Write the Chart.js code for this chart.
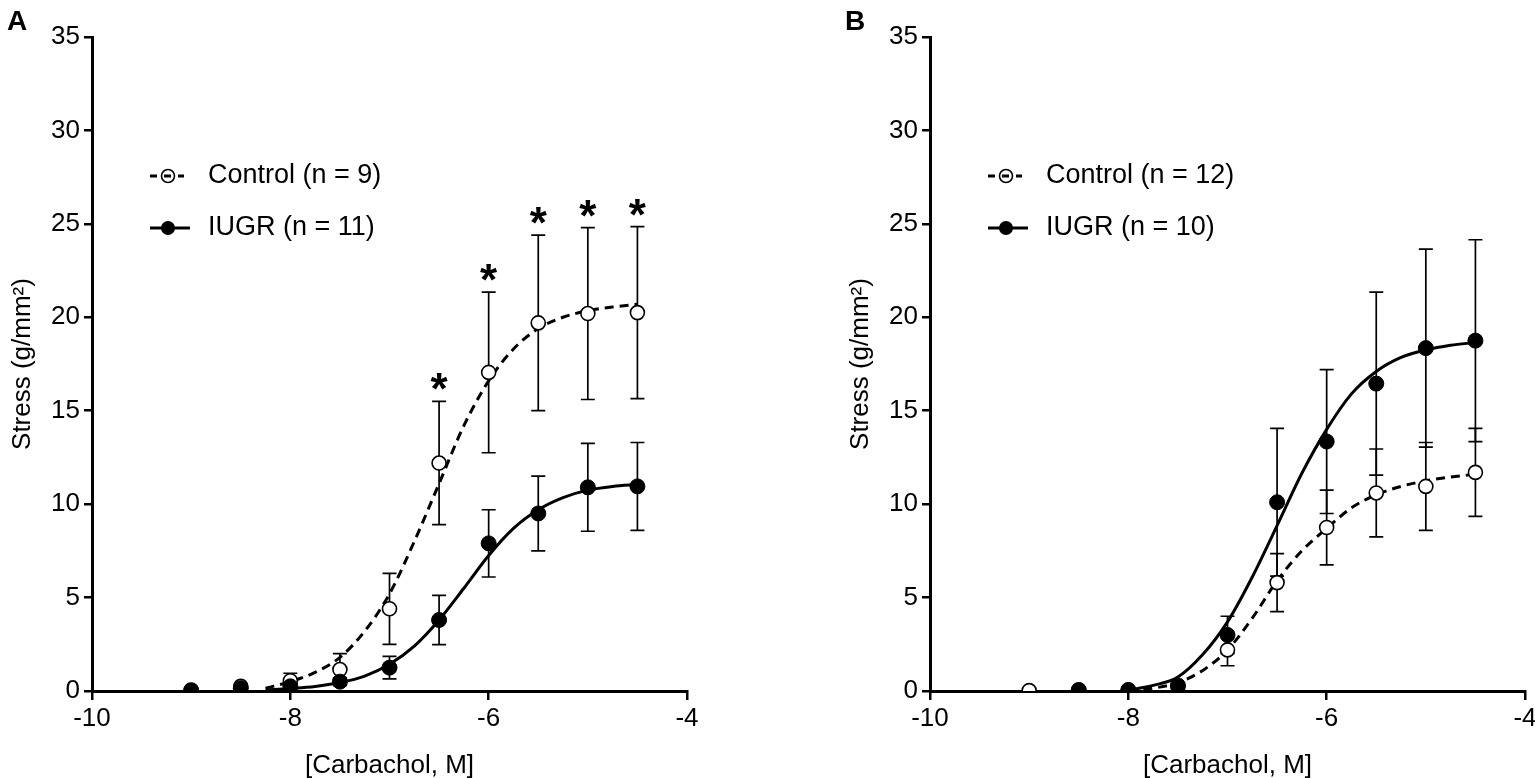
<!DOCTYPE html>
<html><head><meta charset="utf-8">
<script src="https://cdn.jsdelivr.net/npm/chart.js@4.4.0/dist/chart.umd.min.js"></script>
<style>
html,body{margin:0;padding:0;background:#fff;width:1535px;height:778px;overflow:hidden;position:relative;}
canvas{position:absolute;top:0;}
#cA{left:0;}
#cB{left:838px;}
</style></head><body>
<canvas id="cA" width="730" height="778"></canvas>
<canvas id="cB" width="730" height="778"></canvas>
<script>
// ---- data ----
const xVals = [-9, -8.5, -8, -7.5, -7, -6.5, -6, -5.5, -5, -4.5];
const xTicks = [-10, -8, -6, -4];
const yTicks = [0, 5, 10, 15, 20, 25, 30, 35];

// Panel A
const ctrlA    = [0.05, 0.25, 0.55, 1.15, 4.4, 12.2, 17.05, 19.7, 20.2, 20.25];
const ctrlAErr = [0, 0.1, 0.4, 0.85, 1.9, 3.3, 4.3, 4.7, 4.6, 4.6];
const ctrlASig = [false, false, false, false, false, true, true, true, true, true];
const iugrA    = [0.02, 0.15, 0.25, 0.5, 1.25, 3.8, 7.9, 9.5, 10.9, 10.95];
const iugrAErr = [0, 0, 0.1, 0.2, 0.6, 1.32, 1.8, 2.0, 2.35, 2.35];
const curveXA     = [-8.25, -8, -7.75, -7.5, -7.25, -7, -6.75, -6.5, -6.25, -6, -5.75, -5.5, -5.25, -5, -4.75, -4.5];
const ctrlCurveA  = [0.15, 0.5, 1.0, 1.8, 3.2, 5.2, 8.0, 11.1, 14.2, 16.6, 18.3, 19.4, 20.0, 20.35, 20.55, 20.7];
const iugrCurveA  = [0.05, 0.13, 0.24, 0.45, 0.8, 1.43, 2.4, 3.8, 5.5, 7.25, 8.7, 9.7, 10.35, 10.75, 10.95, 11.05];

// Panel B
const ctrlB    = [0.02, 0.05, 0.05, 0.25, 2.2, 5.8, 8.75, 10.6, 10.95, 11.7];
const ctrlBErr = [0, 0, 0, 0.1, 0.85, 1.55, 2.0, 2.35, 2.35, 2.35];
const iugrB    = [null, 0.05, 0.05, 0.3, 3.0, 10.1, 13.35, 16.45, 18.35, 18.75];
const iugrBErr = [0, 0, 0, 0, 1.0, 3.95, 3.85, 4.9, 5.3, 5.4];
const curveXB     = [-8, -7.75, -7.5, -7.25, -7, -6.75, -6.5, -6.25, -6, -5.75, -5.5, -5.25, -5, -4.75, -4.5];
const ctrlCurveB  = [0.02, 0.15, 0.45, 1.1, 2.2, 3.9, 5.9, 7.5, 8.7, 9.8, 10.5, 10.95, 11.25, 11.45, 11.6];
const iugrCurveB  = [0.05, 0.3, 0.75, 1.95, 3.7, 6.1, 8.85, 11.65, 14.0, 15.9, 17.1, 17.85, 18.25, 18.5, 18.65];

const legendA = ['Control (n = 9)', 'IUGR (n = 11)'];
const legendB = ['Control (n = 12)', 'IUGR (n = 10)'];

const FONT = "'Liberation Sans', Arial, sans-serif";

function pts(xs, ys) { return xs.map((x, i) => ({x: x, y: ys[i]})).filter(p => p.y !== null); }
function errs(ys, es) { return es.filter((e, i) => ys[i] !== null); }

const decor = {
  id: 'decor',
  beforeDatasetsDraw(chart) {
    const ctx = chart.ctx, ys = chart.scales.y;
    chart.data.datasets.forEach((ds, di) => {
      if (!ds.errors) return;
      const meta = chart.getDatasetMeta(di);
      ctx.save();
      ctx.strokeStyle = '#000'; ctx.lineWidth = 1.7;
      meta.data.forEach((pt, i) => {
        const e = ds.errors[i], v = ds.data[i].y;
        if (!e) return;
        const yt = ys.getPixelForValue(v + e), yb = ys.getPixelForValue(v - e);
        ctx.beginPath();
        ctx.moveTo(pt.x, yt); ctx.lineTo(pt.x, yb);
        ctx.moveTo(pt.x - 7, yt); ctx.lineTo(pt.x + 7, yt);
        ctx.moveTo(pt.x - 7, yb); ctx.lineTo(pt.x + 7, yb);
        ctx.stroke();
      });
      ctx.restore();
    });
  },
  afterDatasetsDraw(chart) {
    const ctx = chart.ctx, ys = chart.scales.y;
    chart.data.datasets.forEach((ds, di) => {
      if (!ds.sig) return;
      const meta = chart.getDatasetMeta(di);
      ctx.save();
      ctx.fillStyle = '#000'; ctx.font = 'bold 44px ' + FONT;
      ctx.textAlign = 'center'; ctx.textBaseline = 'alphabetic';
      meta.data.forEach((pt, i) => {
        if (!ds.sig[i]) return;
        const yt = ys.getPixelForValue(ds.data[i].y + ds.errors[i]);
        ctx.fillText('*', pt.x, yt + 3);
      });
      ctx.restore();
    });
  },
  afterDraw(chart, args, opts) {
    const ctx = chart.ctx, L = chart.chartArea.left;
    ctx.save();
    ctx.fillStyle = '#000';
    ctx.font = 'bold 28px ' + FONT;
    ctx.textBaseline = 'top'; ctx.textAlign = 'left';
    ctx.fillText(opts.letter, 7, 8);
    // legend
    const rows = [176, 228];
    const x0 = L + 58, x1 = L + 98, cx = L + 76;
    ctx.font = '27px ' + FONT; ctx.textBaseline = 'middle';
    opts.labels.forEach((lab, i) => {
      const y = rows[i];
      ctx.strokeStyle = '#000'; ctx.lineWidth = 3;
      if (i === 0) {
        ctx.beginPath(); ctx.arc(cx, y, 6.5, 0, Math.PI * 2);
        ctx.fillStyle = '#fff'; ctx.fill(); ctx.lineWidth = 1.6; ctx.stroke();
        ctx.lineWidth = 3; ctx.setLineDash([7, 7]);
        ctx.beginPath(); ctx.moveTo(x0, y); ctx.lineTo(x1 - 6, y); ctx.stroke();
        ctx.setLineDash([]);
      } else {
        ctx.beginPath(); ctx.moveTo(x0, y); ctx.lineTo(x1, y); ctx.stroke();
        ctx.beginPath(); ctx.arc(cx, y, 7, 0, Math.PI * 2);
        ctx.fillStyle = '#000'; ctx.fill();
      }
      ctx.fillStyle = '#000';
      ctx.fillText(lab, L + 116, y);
    });
    ctx.restore();
  }
};

function makeChart(id, letter, labels, ctrl, ctrlErr, ctrlSig, iugr, iugrErr, cx, cc, ic) {
  return new Chart(document.getElementById(id), {
    data: {
      datasets: [
        { type: 'scatter', data: pts(xVals, iugr), errors: errs(iugr, iugrErr),
          pointRadius: 7.5, pointBackgroundColor: '#000', pointBorderColor: '#000', pointBorderWidth: 1,
          showLine: false, order: 1 },
        { type: 'scatter', data: pts(xVals, ctrl), errors: errs(ctrl, ctrlErr), sig: ctrlSig,
          pointRadius: 7, pointBackgroundColor: '#fff', pointBorderColor: '#000', pointBorderWidth: 1.6,
          showLine: false, order: 2 },
        { type: 'line', data: pts(cx, cc), borderColor: '#000', borderWidth: 3, borderDash: [9, 6],
          pointRadius: 0, cubicInterpolationMode: 'monotone', fill: false, order: 3 },
        { type: 'line', data: pts(cx, ic), borderColor: '#000', borderWidth: 3,
          pointRadius: 0, cubicInterpolationMode: 'monotone', fill: false, order: 4 }
      ]
    },
    options: {
      responsive: false, animation: false, devicePixelRatio: 1,
      layout: { padding: { left: 0, right: 43, top: 37, bottom: 0 } },
      plugins: { legend: { display: false }, tooltip: { enabled: false },
                 decor: { letter: letter, labels: labels } },
      scales: {
        x: {
          type: 'linear', min: -10, max: -4,
          afterBuildTicks: s => { s.ticks = xTicks.map(v => ({value: v})); },
          afterFit: s => { s.height = 87; },
          border: { color: '#000', width: 3 },
          grid: { drawOnChartArea: false, drawTicks: true, tickLength: 9, color: '#000', lineWidth: 2.5 },
          ticks: { color: '#000', font: { family: FONT, size: 26 }, padding: 3, maxRotation: 0 },
          title: { display: true, text: '[Carbachol, M]', color: '#000', font: { family: FONT, size: 26 }, padding: { top: 0, bottom: -3 } }
        },
        y: {
          type: 'linear', min: 0, max: 35,
          afterBuildTicks: s => { s.ticks = yTicks.map(v => ({value: v})); },
          afterFit: s => { s.width = 92; },
          border: { color: '#000', width: 3 },
          grid: { drawOnChartArea: false, drawTicks: true, tickLength: 8, color: '#000', lineWidth: 2.5 },
          ticks: { color: '#000', font: { family: FONT, size: 26 }, padding: 4 },
          title: { display: true, text: 'Stress (g/mm²)', color: '#000', font: { family: FONT, size: 26 }, padding: { top: 7, bottom: 0 } }
        }
      }
    },
    plugins: [decor]
  });
}

makeChart('cA', 'A', legendA, ctrlA, ctrlAErr, ctrlASig, iugrA, iugrAErr, curveXA, ctrlCurveA, iugrCurveA);
makeChart('cB', 'B', legendB, ctrlB, ctrlBErr, null, iugrB, iugrBErr, curveXB, ctrlCurveB, iugrCurveB);
</script>
</body></html>
